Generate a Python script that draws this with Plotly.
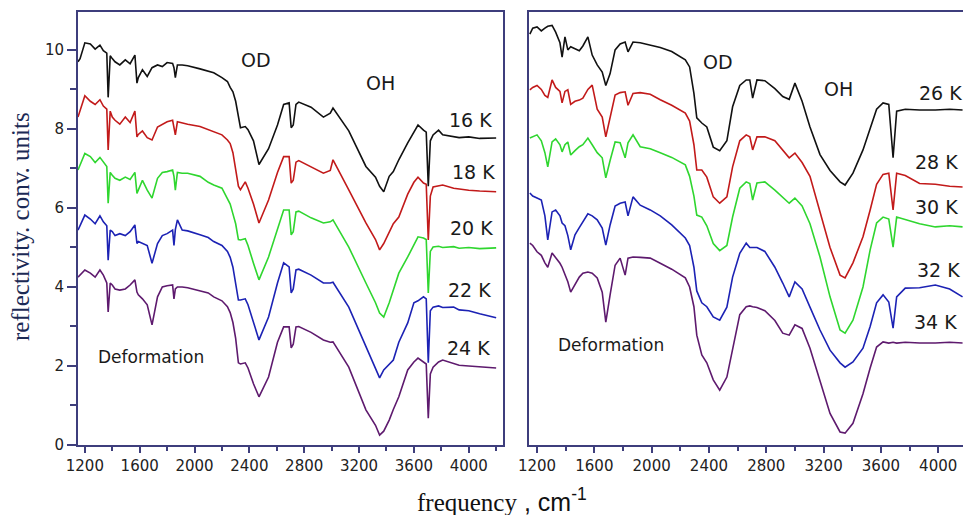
import plotly.graph_objects as go

# ---------------- data: left panel (16-24 K) ----------------
freq_left = [1150,1165,1200,1240,1275,1310,1335,1360,1370,1385,
             1400,1420,1455,1495,1530,1565,1580,1590,1620,1655,
             1690,1730,1765,1800,1840,1850,1860,1875,1910,1950,
             2040,2100,2140,2200,2240,2260,2280,2300,2320,2335,
             2370,2390,2430,2470,2540,2605,2650,2690,2705,2720,
             2740,2760,2850,2940,2990,3010,3125,3250,3320,3350,
             3380,3420,3450,3490,3555,3600,3630,3670,3690,3705,
             3720,3740,3780,3810,3890,3930,4000,4080,4200]

r16 = [9.70,9.78,10.18,10.15,10.02,10.12,9.98,9.92,8.80,9.85,
       9.78,9.70,9.62,9.75,9.65,9.87,9.16,9.30,9.50,9.33,
       9.55,9.62,9.58,9.68,9.66,9.55,9.30,9.62,9.62,9.60,
       9.52,9.46,9.42,9.30,9.20,9.05,8.94,8.70,8.25,8.03,
       8.06,7.98,7.70,7.10,7.50,8.10,8.62,8.66,8.03,8.10,
       8.62,8.68,8.55,8.30,8.40,8.53,7.95,7.05,6.78,6.55,
       6.41,6.80,6.92,7.22,7.65,7.92,8.10,7.97,7.92,6.55,
       7.70,7.85,7.97,7.85,7.80,7.78,7.80,7.76,7.77]

r18 = [8.30,8.48,8.84,8.70,8.62,8.74,8.58,8.50,7.47,8.45,
       8.30,8.22,8.12,8.30,8.16,8.45,7.80,7.86,7.95,7.78,
       7.72,8.05,8.12,8.18,8.22,8.05,7.85,8.18,8.15,8.12,
       8.06,7.98,7.92,7.85,7.72,7.63,7.40,6.96,6.55,6.46,
       6.66,6.50,6.10,5.62,6.20,6.90,7.30,7.30,6.63,6.70,
       7.16,7.20,7.05,6.88,6.95,7.22,6.46,5.62,5.20,4.94,
       5.10,5.40,5.60,5.77,6.35,6.65,6.78,6.63,6.60,5.19,
       6.30,6.53,6.55,6.58,6.50,6.48,6.45,6.43,6.41]

r20 = [6.96,7.10,7.38,7.30,7.15,7.28,7.15,7.05,6.12,6.90,
       6.83,6.75,6.70,6.78,6.72,6.90,6.37,6.45,6.70,6.45,
       6.25,6.75,6.90,6.92,6.96,6.80,6.45,6.90,6.88,6.88,
       6.80,6.65,6.58,6.50,6.25,6.10,5.85,5.60,5.20,5.19,
       5.22,5.05,4.60,4.18,4.76,5.50,5.95,5.95,5.32,5.40,
       5.90,5.92,5.75,5.62,5.65,5.70,5.01,4.10,3.60,3.34,
       3.24,3.60,3.90,4.35,4.76,5.05,5.27,5.24,5.20,3.85,
       4.90,5.01,5.03,5.00,5.02,4.98,5.00,4.97,4.99]

r22 = [5.44,5.55,5.82,5.72,5.60,5.80,5.65,5.55,4.68,5.44,
       5.40,5.30,5.35,5.30,5.40,5.57,5.10,5.15,5.10,5.05,
       4.60,5.10,5.30,5.35,5.44,5.05,5.45,5.70,5.44,5.42,
       5.32,5.25,5.15,5.05,4.90,4.75,4.50,4.10,3.67,3.67,
       3.70,3.55,3.10,2.66,3.24,4.10,4.61,4.51,3.85,3.95,
       4.43,4.45,4.30,4.10,4.10,4.12,3.49,2.48,1.90,1.70,
       1.90,2.05,2.15,2.60,3.09,3.60,3.65,3.75,3.70,2.08,
       3.40,3.49,3.52,3.48,3.49,3.42,3.40,3.32,3.22]

r24 = [4.25,4.30,4.43,4.35,4.25,4.43,4.30,4.10,3.37,4.10,
       4.05,3.95,3.92,3.95,4.05,4.18,3.87,3.80,3.70,3.55,
       3.04,3.75,4.00,4.03,4.05,3.70,3.95,4.00,4.00,3.98,
       3.90,3.85,3.75,3.65,3.50,3.35,3.10,2.70,2.08,2.05,
       2.08,1.95,1.55,1.22,1.72,2.60,2.99,2.99,2.46,2.55,
       2.99,3.00,2.85,2.66,2.60,2.61,1.97,0.89,0.50,0.25,
       0.35,0.63,0.90,1.22,1.90,2.10,2.20,2.10,2.05,0.68,
       1.80,1.97,2.10,2.15,2.05,2.02,2.00,1.98,1.95]

# ---------------- data: right panel (26-34 K) ----------------
freq_right = [1150,1170,1200,1230,1255,1275,1305,1330,1360,1375,
              1395,1415,1435,1465,1495,1520,1555,1585,1620,1655,
              1680,1710,1745,1780,1815,1835,1870,1920,1990,2060,
              2140,2235,2265,2295,2315,2350,2385,2430,2475,2525,
              2565,2615,2660,2685,2705,2735,2790,2860,2915,2960,
              3000,3050,3105,3175,3245,3315,3350,3405,3475,3525,
              3570,3615,3655,3685,3710,3770,3870,3980,4080,4170]

r26 = [10.40,10.55,10.58,10.48,10.55,10.60,10.62,10.45,10.18,9.82,
       10.33,10.00,10.08,10.02,9.98,10.10,10.33,9.87,9.62,9.44,
       9.10,9.40,10.00,10.15,10.20,9.95,10.20,10.18,10.12,10.06,
       9.96,9.75,9.57,8.90,8.28,8.15,8.05,7.54,7.45,7.70,
       8.56,9.10,9.24,9.24,8.78,9.24,9.22,9.02,8.82,8.75,
       9.16,8.70,8.05,7.35,6.95,6.66,6.58,6.88,7.47,8.00,
       8.50,8.66,8.62,7.27,8.45,8.50,8.48,8.48,8.50,8.48]

r28 = [8.99,9.05,9.10,9.00,8.85,8.80,9.24,9.05,8.95,8.66,
       8.95,8.99,8.62,8.70,8.73,8.78,9.00,9.11,8.50,8.30,
       7.80,8.30,8.86,8.92,8.94,8.60,8.90,8.92,8.88,8.74,
       8.60,8.40,8.20,7.60,6.96,6.96,6.78,6.28,6.12,6.28,
       7.04,7.70,7.85,7.80,7.47,7.80,7.80,7.70,7.45,7.27,
       7.39,7.15,6.80,5.90,5.00,4.30,4.23,4.61,5.27,5.95,
       6.60,6.85,6.88,5.95,6.88,6.82,6.62,6.60,6.55,6.53]

r30 = [7.77,7.80,7.85,7.70,7.40,7.04,7.67,7.75,7.60,7.42,
       7.60,7.67,7.34,7.45,7.55,7.60,7.77,7.60,7.40,7.27,
       6.76,7.20,7.67,7.65,7.27,7.65,7.85,7.55,7.50,7.40,
       7.28,7.09,6.80,6.30,5.82,5.77,5.55,5.10,4.92,5.05,
       5.77,6.50,6.66,6.62,6.20,6.63,6.66,6.45,6.28,6.12,
       6.25,6.05,5.60,4.76,3.75,2.91,2.83,3.16,4.00,4.94,
       5.62,5.77,5.72,5.01,5.77,5.70,5.60,5.52,5.55,5.52]

r32 = [6.38,6.30,6.25,6.20,5.80,5.19,5.90,5.95,5.80,5.62,
       5.55,5.30,4.94,5.32,5.50,5.65,5.85,5.80,5.70,5.49,
       5.06,5.57,6.05,6.12,6.15,5.80,6.28,6.07,5.95,5.80,
       5.57,5.24,5.05,4.50,3.90,3.60,3.50,3.24,3.16,3.49,
       4.25,4.85,5.11,5.00,5.00,5.00,4.90,4.50,4.10,3.75,
       4.13,3.95,3.49,2.91,2.40,2.08,1.97,2.10,2.45,3.00,
       3.60,3.80,3.62,2.96,3.75,3.97,3.98,4.05,3.95,3.75]

r34 = [5.11,5.05,4.89,4.80,4.61,4.50,4.86,4.75,4.60,4.50,
       4.30,4.13,3.87,4.05,4.25,4.35,4.38,4.35,4.23,3.87,
       3.11,3.80,4.55,4.73,4.30,4.73,4.76,4.75,4.73,4.60,
       4.45,4.23,4.00,3.50,2.78,2.28,2.08,1.65,1.39,1.72,
       2.40,3.30,3.50,3.52,3.50,3.48,3.40,3.15,2.83,2.78,
       3.04,2.95,2.45,1.60,0.80,0.33,0.30,0.55,1.30,1.95,
       2.48,2.61,2.58,2.60,2.58,2.60,2.58,2.58,2.60,2.58]

left_series = [("16 K", r16), ("18 K", r18), ("20 K", r20), ("22 K", r22), ("24 K", r24)]
right_series = [("26 K", r26), ("28 K", r28), ("30 K", r30), ("32 K", r32), ("34 K", r34)]
colors = ["#111111", "#c21a1a", "#2fd62f", "#1c22b4", "#5e1a6e"]

x_ticks = [1200, 1600, 2000, 2400, 2800, 3200, 3600, 4000]
y_ticks = [0, 2, 4, 6, 8, 10]

# label positions (frequency, reflectivity)
left_label_pos = [(4010, 8.23), (4032, 6.91), (4017, 5.49), (4003, 3.92), (3996, 2.46)]
right_label_pos = [(3851, 8.91), (3824, 7.16), (3824, 6.03), (3838, 4.43), (3817, 3.11)]

fig = go.Figure()
for (name, ys), c in zip(left_series, colors):
    fig.add_trace(go.Scatter(x=freq_left, y=ys, mode="lines", name=name,
                             line=dict(color=c, width=1.6), xaxis="x", yaxis="y"))
for (name, ys), c in zip(right_series, colors):
    fig.add_trace(go.Scatter(x=freq_right, y=ys, mode="lines", name=name,
                             line=dict(color=c, width=1.6), xaxis="x2", yaxis="y2"))

axis_col = "#3e3e7c"
tick_font = dict(family="DejaVu Sans", size=15, color="#222222")

def xaxis_cfg(rng, domain, anchor):
    return dict(range=rng, domain=domain, anchor=anchor, tickmode="array",
                tickvals=x_ticks, ticktext=[str(v) for v in x_ticks],
                ticks="outside", ticklen=6, tickwidth=1.5, tickcolor=axis_col,
                minor=dict(tickmode="linear", tick0=1200, dtick=200, ticks="outside",
                           ticklen=4, tickcolor=axis_col, tickwidth=1.5),
                showline=True, linecolor=axis_col, linewidth=2, mirror=True,
                showgrid=False, zeroline=False, tickfont=tick_font)

L, R, T, B = 78, 0, 12, 70
W, H = 963, 515
pw = W - L - R
ph = H - T - B
left_dom = [0, (503 - L) / pw]
right_dom = [(529 - L) / pw, 1]

fig.update_layout(
    width=W, height=H,
    margin=dict(l=L, r=R, t=T, b=B, pad=0),
    paper_bgcolor="white", plot_bgcolor="white",
    showlegend=False,
    xaxis=xaxis_cfg([1150, 4250], left_dom, "y"),
    xaxis2=xaxis_cfg([1144, 4173], right_dom, "y2"),
    yaxis=dict(range=[0, 10.96], domain=[0, 1], anchor="x", tickmode="array",
               tickvals=y_ticks, ticktext=[str(v) for v in y_ticks],
               ticks="outside", ticklen=9, tickwidth=1.5, tickcolor=axis_col,
               minor=dict(tickmode="linear", tick0=1, dtick=2, ticks="outside",
                          ticklen=6, tickcolor=axis_col, tickwidth=1.5),
               showline=True, linecolor=axis_col, linewidth=2, mirror=True,
               showgrid=False, zeroline=False, tickfont=tick_font),
    yaxis2=dict(range=[0, 10.96], domain=[0, 1], anchor="x2",
                showticklabels=False, ticks="",
                showline=True, linecolor=axis_col, linewidth=2, mirror=False,
                showgrid=False, zeroline=False),
)

lab_font = dict(family="DejaVu Sans", size=19, color="#1a1a1a")
def_font = dict(family="DejaVu Sans", size=17, color="#1a1a1a")
ann = []
for (name, _), (fx, fy) in zip(left_series, left_label_pos):
    ann.append(dict(x=fx, y=fy, xref="x", yref="y", text=name, showarrow=False,
                    font=lab_font, xanchor="center", yanchor="middle"))
for (name, _), (fx, fy) in zip(right_series, right_label_pos):
    ann.append(dict(x=fx, y=fy, xref="x2", yref="y2", text=name, showarrow=False,
                    font=lab_font, xanchor="left", yanchor="middle"))
ann += [
    dict(x=2445, y=9.75, xref="x", yref="y", text="OD", showarrow=False, font=lab_font),
    dict(x=3359, y=9.16, xref="x", yref="y", text="OH", showarrow=False, font=lab_font),
    dict(x=2463, y=9.70, xref="x2", yref="y2", text="OD", showarrow=False, font=lab_font),
    dict(x=3307, y=9.01, xref="x2", yref="y2", text="OH", showarrow=False, font=lab_font),
    dict(x=1684, y=2.23, xref="x", yref="y", text="Deformation", showarrow=False, font=def_font),
    dict(x=1716, y=2.53, xref="x2", yref="y2", text="Deformation", showarrow=False, font=def_font),
    # axis titles
    dict(x=(502 - L) / pw, y=0, xref="paper", yref="paper", xanchor="center",
         yanchor="top", yshift=-37,
         text='frequency<span style="font-family:Liberation Sans"> , cm<sup>-1</sup></span>',
         showarrow=False, font=dict(family="Liberation Serif", size=25, color="#111111")),
    dict(x=-58 / pw, y=(445 - 227) / ph, xref="paper", yref="paper",
         xanchor="center", yanchor="middle",
         text="reflectivity. conv. units", textangle=-90, showarrow=False,
         font=dict(family="Liberation Serif", size=25, color="#1c2a55")),
]
fig.update_layout(annotations=ann)

fig.write_html("out.html")
